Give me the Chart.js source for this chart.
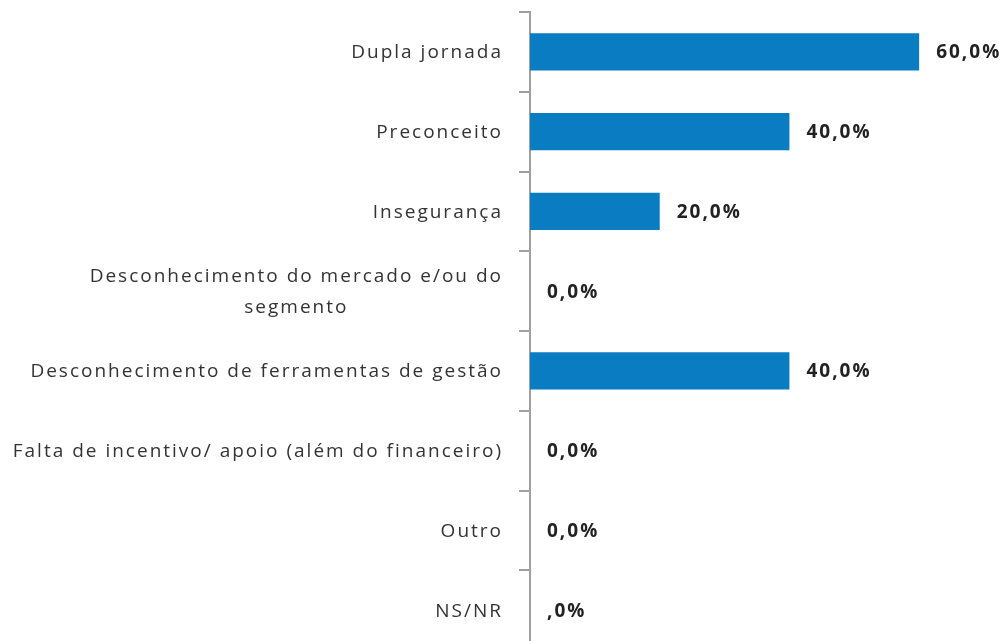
<!DOCTYPE html>
<html>
<head>
<meta charset="utf-8">
<script src="https://cdn.jsdelivr.net/npm/chart.js@4"></script>
<style>
  html, body { margin: 0; padding: 0; background: #fff; overflow: hidden; }
</style>
</head>
<body>
<canvas id="chart" width="1008" height="650"></canvas>
<script>
const categories = [
  ["Dupla jornada"],
  ["Preconceito"],
  ["Insegurança"],
  ["Desconhecimento do mercado e/ou do", "segmento"],
  ["Desconhecimento de ferramentas de gestão"],
  ["Falta de incentivo/ apoio (além do financeiro)"],
  ["Outro"],
  ["NS/NR"],
];
const values = [60, 40, 20, 0, 40, 0, 0, 0];
const valueLabels = ["60,0%", "40,0%", "20,0%", "0,0%", "40,0%", "0,0%", "0,0%", ",0%"];

const barColor = "#0a7dc2";
const labelFont = "19px 'Open Sans'";
const valueFont = "bold 19px 'Open Sans'";

// category labels drawn by hand so the wrapped one can be centred like the original
const categoryLabels = {
  id: "categoryLabels",
  afterDraw(chart) {
    const { ctx } = chart;
    const yScale = chart.scales.y;
    const right = yScale.right - 27;
    ctx.save();
    ctx.font = labelFont;
    ctx.letterSpacing = "2px";
    ctx.fillStyle = "#333333";
    ctx.textBaseline = "middle";
    categories.forEach((lines, i) => {
      const y = yScale.getPixelForValue(i);
      const lineHeight = 31;
      const widths = lines.map((l) => ctx.measureText(l).width);
      const maxW = Math.max(...widths);
      const startY = y + 1 - ((lines.length - 1) * lineHeight) / 2;
      lines.forEach((line, j) => {
        if (lines.length > 1) {
          ctx.textAlign = "center";
          ctx.fillText(line, right - maxW / 2, startY + j * lineHeight);
        } else {
          ctx.textAlign = "right";
          ctx.fillText(line, right, startY);
        }
      });
    });
    ctx.restore();
  },
};

const valueLabelPlugin = {
  id: "valueLabels",
  afterDatasetsDraw(chart) {
    const { ctx } = chart;
    const meta = chart.getDatasetMeta(0);
    ctx.save();
    ctx.font = valueFont;
    ctx.letterSpacing = "2px";
    ctx.fillStyle = "#222222";
    ctx.textAlign = "left";
    ctx.textBaseline = "middle";
    meta.data.forEach((bar, i) => {
      ctx.fillText(valueLabels[i], bar.x + 17, bar.y + 1);
    });
    ctx.restore();
  },
};

new Chart(document.getElementById("chart"), {
  type: "bar",
  data: {
    labels: categories.map((c) => c.join(" ")),
    datasets: [
      {
        data: values,
        backgroundColor: barColor,
        borderWidth: 0,
        categoryPercentage: 1,
        barPercentage: 0.47,
      },
    ],
  },
  options: {
    indexAxis: "y",
    responsive: false,
    animation: false,
    layout: { padding: { top: 12, left: 0, right: 0, bottom: 0 } },
    plugins: { legend: { display: false }, tooltip: { enabled: false } },
    scales: {
      x: {
        display: false,
        min: 0,
        max: 73.7,
      },
      y: {
        afterFit(scale) {
          scale.width = 530;
        },
        ticks: { display: false },
        grid: {
          offset: true,
          drawOnChartArea: false,
          drawTicks: true,
          tickLength: 11,
          color: "#a0a0a0",
          lineWidth: 2,
        },
        border: { color: "#a0a0a0", width: 2 },
      },
    },
  },
  plugins: [categoryLabels, valueLabelPlugin],
});
</script>
</body>
</html>
